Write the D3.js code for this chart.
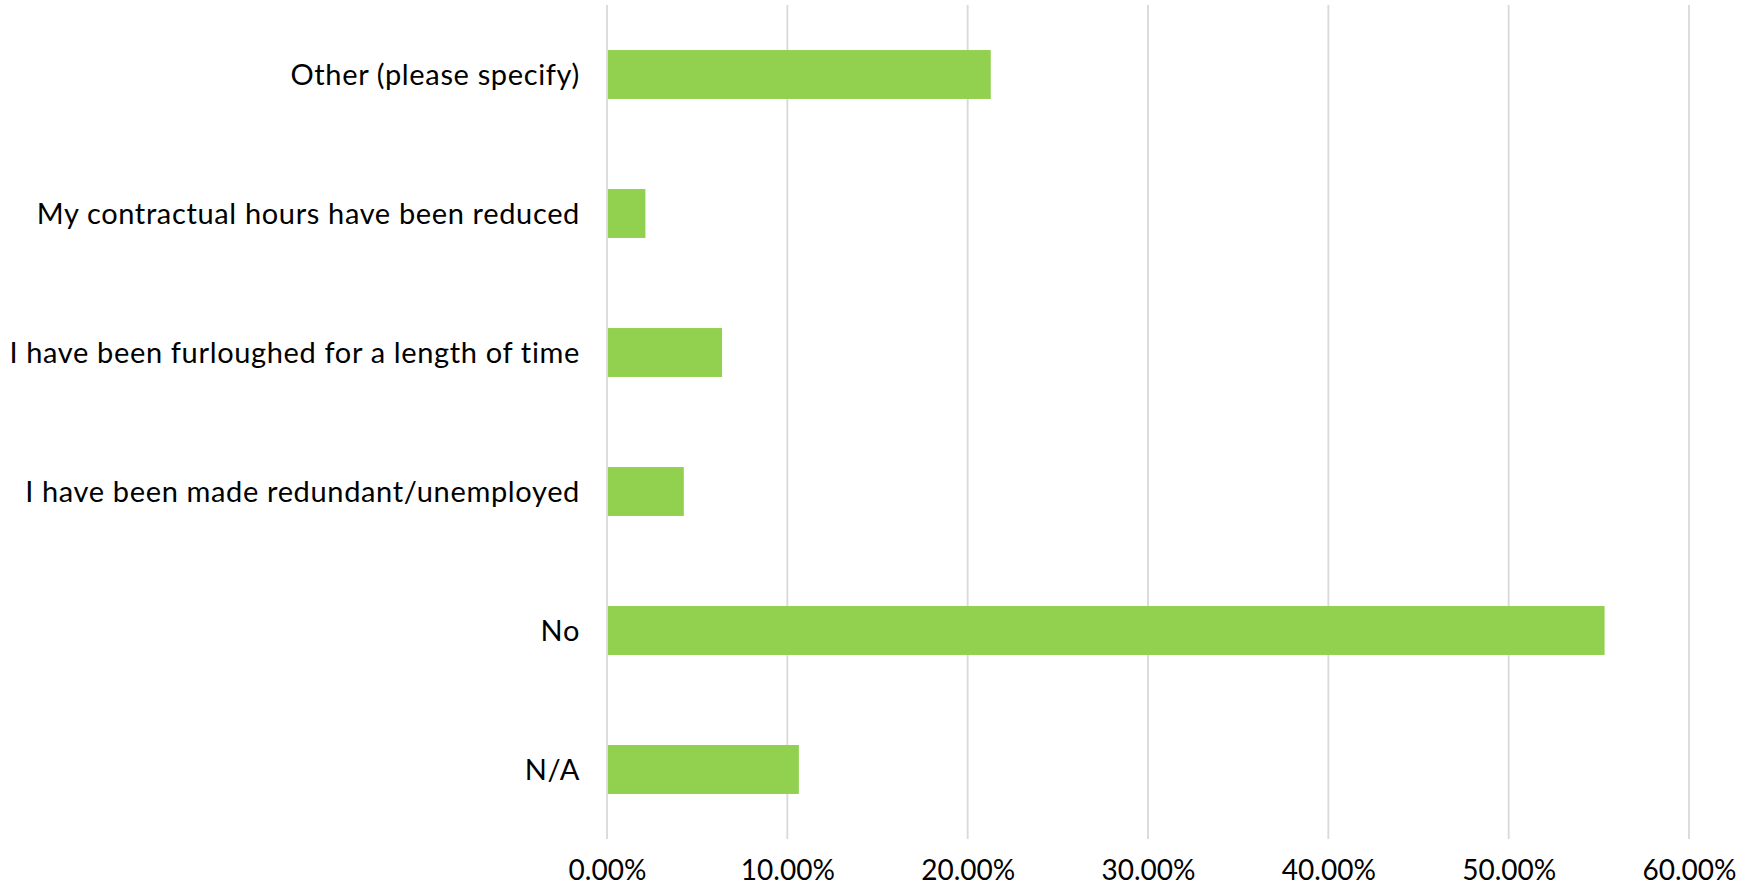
<!DOCTYPE html>
<html>
<head>
<meta charset="utf-8">
<script src="https://cdn.jsdelivr.net/npm/d3@7"></script>
<style>
  body { margin: 0; background: #fff; }
  svg text { font-family: "Century Gothic", Lato, "Open Sans", sans-serif; fill: #000; }
</style>
</head>
<body>
<svg width="1739" height="887"></svg>
<script>
// Answers, top to bottom
var categories = ["Other (please specify)", "My contractual hours have been reduced",
  "I have been furloughed for a length of time", "I have been made redundant/unemployed",
  "No", "N/A"];
var shares = [21.28, 2.13, 6.38, 4.26, 55.32, 10.64];
var ticks = [0, 10, 20, 30, 40, 50, 60];

// note: "top" is taken by window.top, so plotTop/plotBottom
var svg = d3.select("svg"),
    plotLeft = 607, plotRight = 1689, plotTop = 5, plotBottom = 839;

var x = d3.scaleLinear().domain([0, 60]).range([plotLeft, plotRight]);
var y = d3.scaleBand().domain(categories).range([plotTop, plotBottom])
          .paddingInner(0.648).paddingOuter(0.324);

// gridlines
svg.append("g")
   .selectAll("line")
   .data(ticks)
   .enter().append("line")
   .attr("x1", function(d) { return x(d); })
   .attr("x2", function(d) { return x(d); })
   .attr("y1", plotTop)
   .attr("y2", plotBottom)
   .attr("stroke", "#d9d9d9")
   .attr("stroke-width", 1.8);

// bars
svg.append("g")
   .selectAll("rect")
   .data(shares)
   .enter().append("rect")
   .attr("x", x(0) + 1)
   .attr("y", function(d, i) { return y(categories[i]); })
   .attr("width", function(d) { return x(d) - x(0) - 1; })
   .attr("height", y.bandwidth())
   .attr("fill", "#92d050");

// category labels
var yAxis = svg.append("g")
   .attr("transform", "translate(" + (plotLeft - 27) + ",0)")
   .call(d3.axisLeft(y).tickSize(0).tickPadding(0));
yAxis.attr("font-family", null).attr("font-size", null);
yAxis.select(".domain").remove();
yAxis.selectAll("text")
   .style("font-size", "29px")
   .style("letter-spacing", "0.65px")
   .attr("dy", "0.35em");

// percent labels
var xAxis = svg.append("g")
   .attr("transform", "translate(0," + plotBottom + ")")
   .call(d3.axisBottom(x).tickValues(ticks).tickSize(0).tickPadding(21)
           .tickFormat(function(d) { return d.toFixed(2) + "%"; }));
xAxis.attr("font-family", null).attr("font-size", null);
xAxis.select(".domain").remove();
xAxis.selectAll("text")
   .style("font-size", "28px")
   .attr("dy", "0.71em");
</script>
</body>
</html>
